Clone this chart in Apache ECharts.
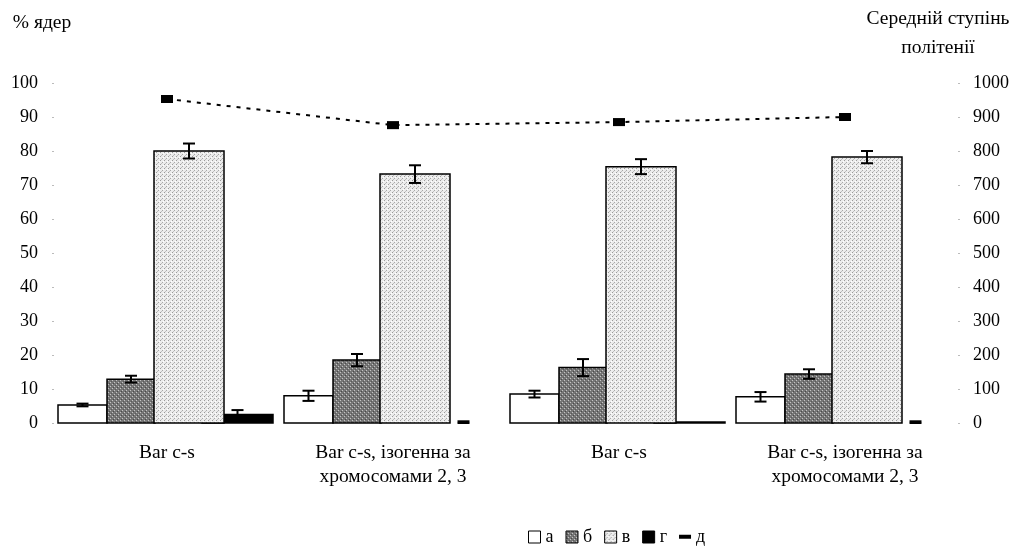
<!DOCTYPE html>
<html>
<head>
<meta charset="utf-8">
<script src="https://cdn.jsdelivr.net/npm/echarts@6/dist/echarts.min.js"></script>
<style>html,body{margin:0;padding:0;background:#fff}#c{width:1016px;height:548px}</style>
</head>
<body>
<div id="c"></div>
<script>
const categories = ['Bar c-s', 'Bar c-s, ізогенна за\nхромосомами 2, 3', 'Bar c-s', 'Bar c-s, ізогенна за\nхромосомами 2, 3'];
const seriesA = [5.3, 8.0, 8.5, 7.7];
const errA = [0.4, 1.5, 1.0, 1.4];
const seriesB = [12.9, 18.5, 16.3, 14.4];
const errB = [1.0, 1.8, 2.5, 1.4];
const seriesV = [80.0, 73.2, 75.4, 78.2];
const errV = [2.2, 2.6, 2.2, 1.8];
const seriesG = [2.5, 0, 0.3, 0];
const errG = [1.3, 0.5, 0, 0.5];
const seriesD = [953, 876, 885, 900];
const errD = [8, 8, 8, 8];
const leftTicks = {min: 0, max: 100, interval: 10};
const rightTicks = {min: 0, max: 1000, interval: 100};

const FONT = '"Liberation Serif", "Times New Roman", serif';

function makePattern(base, pts) {
  const c = document.createElement('canvas');
  c.width = 4; c.height = 4;
  const ctx = c.getContext('2d');
  ctx.fillStyle = base; ctx.fillRect(0, 0, 4, 4);
  pts.forEach(p => { ctx.fillStyle = p[2]; ctx.fillRect(p[0], p[1], 1, 1); });
  return c;
}
const patB = {image: makePattern('#767676', [[0,0,'#c4c4c4'],[2,2,'#c4c4c4'],[1,3,'#4a4a4a'],[3,1,'#5a5a5a']]), repeat: 'repeat'};
const patV = {image: makePattern('#ececec', [[0,0,'#9a9a9a'],[2,2,'#a8a8a8'],[1,3,'#c0c0c0'],[3,1,'#ffffff']]), repeat: 'repeat'};

// offsets/widths as fractions of the category band
const BAND = 226;
const layout = {
  'а': {off: 4 / BAND, w: 49 / BAND},
  'б': {off: 53 / BAND, w: 48 / BAND},
  'в': {off: 100 / BAND, w: 70 / BAND},
  'г': {off: 148 / BAND, w: 71 / BAND}
};

function barSeries(name, values, fill, z) {
  const L = layout[name];
  return {
    name: name, type: 'custom', yAxisIndex: 0, z: z,
    itemStyle: {color: fill},
    data: values.map((v, i) => [i, v]),
    encode: {x: 0, y: 1},
    renderItem: function (params, api) {
      const i = api.value(0), v = api.value(1);
      if (!v) return null;
      const base = api.coord([i, 0]);
      const top = api.coord([i, v]);
      const band = api.size([1, 0])[0];
      const x = base[0] - band / 2 + L.off * band;
      return {
        type: 'rect',
        shape: {x: x, y: top[1], width: L.w * band, height: base[1] - top[1]},
        style: {fill: fill, stroke: '#000', lineWidth: 1.5}
      };
    }
  };
}

function errSeries(name, values, errs) {
  const L = layout[name];
  return {
    name: name + '_err', type: 'custom', yAxisIndex: 0, z: 10, silent: true,
    data: values.map((v, i) => [i, v, errs[i]]),
    encode: {x: 0, y: 1},
    renderItem: function (params, api) {
      const i = api.value(0), v = api.value(1), e = api.value(2);
      if (!e) return null;
      const band = api.size([1, 0])[0];
      const cx = api.coord([i, 0])[0] - band / 2 + (L.off + L.w / 2) * band;
      const hi = api.coord([i, v + e])[1];
      const lo = api.coord([i, Math.max(0, v - e)])[1];
      const hw = 6;
      const st = {stroke: '#000', lineWidth: 2, fill: null};
      return {type: 'group', children: [
        {type: 'line', shape: {x1: cx, y1: hi, x2: cx, y2: lo}, style: st},
        {type: 'line', shape: {x1: cx - hw, y1: hi, x2: cx + hw, y2: hi}, style: st},
        {type: 'line', shape: {x1: cx - hw, y1: lo, x2: cx + hw, y2: lo}, style: st}
      ]};
    }
  };
}

const lineErr = {
  name: 'д_err', type: 'custom', yAxisIndex: 1, z: 12, silent: true,
  data: seriesD.map((v, i) => [i, v, errD[i]]),
  encode: {x: 0, y: 1},
  renderItem: function (params, api) {
    const i = api.value(0), v = api.value(1), e = api.value(2);
    const cx = api.coord([i, v])[0];
    const hi = api.coord([i, v + e])[1];
    const lo = api.coord([i, v - e])[1];
    const st = {stroke: '#000', lineWidth: 1.5, fill: null};
    return {type: 'group', children: [
      {type: 'line', shape: {x1: cx, y1: hi, x2: cx, y2: lo}, style: st},
      {type: 'line', shape: {x1: cx - 6, y1: hi, x2: cx + 6, y2: hi}, style: st},
      {type: 'line', shape: {x1: cx - 6, y1: lo, x2: cx + 6, y2: lo}, style: st}
    ]};
  }
};

const dashIcon = 'path://M0,0L0.01,0L0,0.01Z M0,4.5H14V9H0Z M14,14L13.99,14L14,13.99Z';

const chart = echarts.init(document.getElementById('c'), null, {renderer: 'canvas'});
chart.setOption({
  animation: false,
  backgroundColor: '#fff',
  textStyle: {fontFamily: FONT, color: '#000'},
  grid: {left: 54, right: 58, top: 83, bottom: 125, containLabel: false, outerBoundsMode: 'none'},
  legend: {
    left: 523, top: 523, itemWidth: 12, itemHeight: 12, itemGap: 12,
    textStyle: {fontFamily: FONT, fontSize: 18, color: '#000'},
    data: [
      {name: 'а', icon: 'rect', itemStyle: {color: '#fff', borderColor: '#000', borderWidth: 1}},
      {name: 'б', icon: 'rect', itemStyle: {color: patB, borderColor: '#000', borderWidth: 1}},
      {name: 'в', icon: 'rect', itemStyle: {color: patV, borderColor: '#000', borderWidth: 1}},
      {name: 'г', icon: 'rect', itemStyle: {color: '#000', borderColor: '#000', borderWidth: 1}},
      {name: 'д', icon: dashIcon, itemStyle: {color: '#000', borderWidth: 0}}
    ]
  },
  xAxis: {
    type: 'category', data: categories, boundaryGap: true,
    axisLine: {show: false}, axisTick: {show: false},
    axisLabel: {fontFamily: FONT, fontSize: 19.5, color: '#000', lineHeight: 24, margin: 18, interval: 0}
  },
  yAxis: [
    {
      type: 'value', min: leftTicks.min, max: leftTicks.max, interval: leftTicks.interval,
      name: '% ядер', nameLocation: 'end', nameGap: 60,
      nameTextStyle: {fontFamily: FONT, fontSize: 19.5, color: '#000', align: 'center', verticalAlign: 'middle', padding: [0, 24, 0, 0]},
      axisLine: {show: false}, splitLine: {show: false},
      axisTick: {show: true, length: 2, lineStyle: {color: '#bbb', width: 1}},
      axisLabel: {fontFamily: FONT, fontSize: 18, color: '#000', margin: 16, formatter: v => String(v)}
    },
    {
      type: 'value', min: rightTicks.min, max: rightTicks.max, interval: rightTicks.interval,
      position: 'right',
      name: 'Середній ступінь\nполітенії', nameLocation: 'end', nameGap: 50,
      nameTextStyle: {fontFamily: FONT, fontSize: 19.5, color: '#000', align: 'center', verticalAlign: 'middle', lineHeight: 29, padding: [0, 40, 0, 0]},
      axisLine: {show: false}, splitLine: {show: false},
      axisTick: {show: true, length: 2, lineStyle: {color: '#bbb', width: 1}},
      axisLabel: {fontFamily: FONT, fontSize: 18, color: '#000', margin: 15, formatter: v => String(v)}
    }
  ],
  series: [
    barSeries('а', seriesA, '#fff', 2),
    barSeries('б', seriesB, patB, 3),
    barSeries('в', seriesV, patV, 5),
    barSeries('г', seriesG, '#000', 4),
    errSeries('а', seriesA, errA),
    errSeries('б', seriesB, errB),
    errSeries('в', seriesV, errV),
    errSeries('г', seriesG, errG),
    {
      name: 'д', type: 'line', yAxisIndex: 1, z: 11,
      data: seriesD,
      symbol: 'rect', symbolSize: [12, 8], showSymbol: true,
      itemStyle: {color: '#000'},
      lineStyle: {color: '#000', width: 2, type: [4, 6]}
    },
    lineErr
  ]
});
</script>
</body>
</html>
